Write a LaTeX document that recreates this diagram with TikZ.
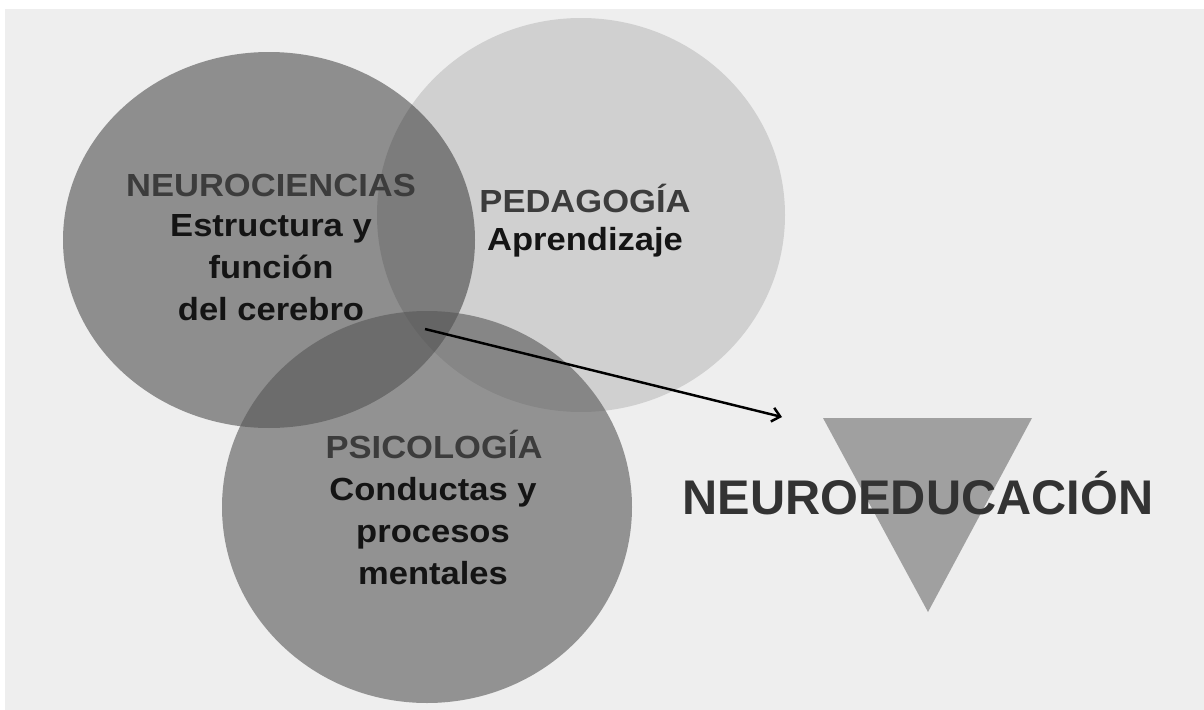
\documentclass[tikz,border=0pt]{standalone}
\usepackage{fontspec}
\setmainfont{Liberation Sans}
\newfontfamily\widesans[FakeStretch=1.08]{Liberation Sans}
\usepackage{tikz}
\usetikzlibrary{arrows.meta}
\usepackage{xcolor}

\definecolor{bggray}{HTML}{EEEEEE}
\definecolor{titlegray}{HTML}{3C3C3C}
\definecolor{textblack}{HTML}{141414}
\definecolor{trigray}{HTML}{A0A0A0}
\definecolor{psigray}{HTML}{565656}
\definecolor{maingray}{HTML}{333333}

\begin{document}
\begin{tikzpicture}[x=0.02cm,y=-0.02cm,
  area/.style={inner sep=0pt, font=\widesans\bfseries\fontsize{18.2}{23.9}\selectfont},
  title/.style={area, text=titlegray, anchor=base},
  desc/.style={area, text=textblack, align=center}]

\useasboundingbox (0,0) rectangle (1204,710);
\fill[white] (0,0) rectangle (1204,710);
\fill[bggray] (5,9) rectangle (1204,710);

\fill[black, opacity=0.4] (269,240) ellipse [x radius=206, y radius=188];
\fill[black, opacity=0.125] (581,215) ellipse [x radius=204, y radius=197];
\fill[psigray, opacity=0.6] (427,507) ellipse [x radius=205, y radius=196];

\fill[trigray] (823,418) -- (1032,418) -- (928,612) -- cycle;

\node[title] (neuro) at (271,196) {NEUROCIENCIAS};
\node[desc] (neurotxt) at (271,268) {Estructura y\\función\\del cerebro};

\node[title] (peda) at (585,212) {PEDAGOGÍA};
\node[area, text=textblack, anchor=base] (pedatxt) at (585,250) {Aprendizaje};

\node[title] (psico) at (434,458) {PSICOLOGÍA};
\node[desc] (psicotxt) at (433,531) {Conductas y\\procesos\\mentales};

\node[anchor=base, inner sep=0pt, text=maingray, font=\bfseries\fontsize{27.7}{32}\selectfont] (neuroedu) at (918,514) {NEUROEDUCACIÓN};

\coordinate (src) at (425,329);
\coordinate (dst) at (782,417);
\draw[black, line width=1.4pt, -{Straight Barb[length=4.5pt,width=8pt]}] (src) -- (dst);

\end{tikzpicture}
\end{document}
